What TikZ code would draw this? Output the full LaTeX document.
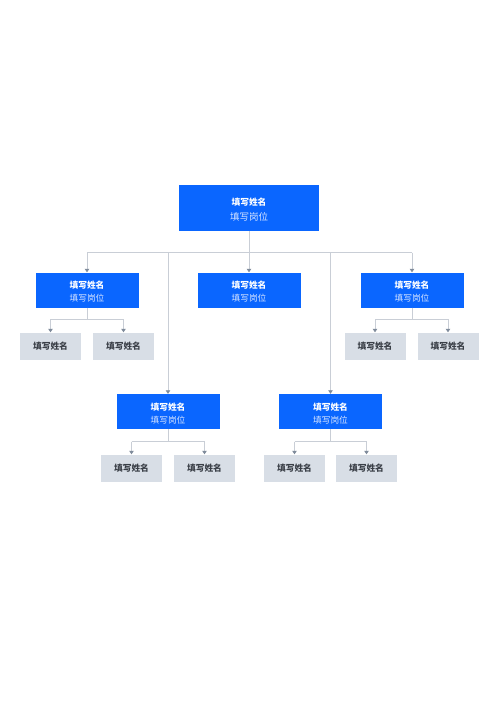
\documentclass[tikz,border=0pt]{standalone}
\usepackage{fontspec}
\setmainfont{Noto Sans CJK SC}
\usetikzlibrary{arrows.meta}
\definecolor{mainblue}{HTML}{0A66FF}
\definecolor{subwhite}{HTML}{D6E4FF}
\definecolor{leafgray}{HTML}{D8DEE6}
\definecolor{leaftext}{HTML}{3A3F47}
\definecolor{linegray}{HTML}{C9CED6}
\definecolor{tipgray}{HTML}{7F8B9B}
\tikzset{
  bluebox/.style={fill=mainblue, draw=none, minimum width=#1, inner sep=0pt},
  cjk/.style={inner sep=0pt, text height=0.88em, text depth=0.12em},
  ttl/.style={cjk, text=white, font=\bfseries\fontsize{8.7pt}{10pt}\selectfont},
  sub/.style={cjk, text=subwhite, font=\fontsize{#1}{10pt}\selectfont},
  leafbox/.style={fill=leafgray, draw=none, minimum width=61pt, minimum height=27pt, inner sep=0pt},
  leaft/.style={cjk, text=leaftext, font=\bfseries\fontsize{8.7pt}{10pt}\selectfont},
  conn/.style={draw=linegray, line width=0.8pt},
  arr/.style={conn, -{Triangle[width=4.5pt,length=3.5pt,color=tipgray]}},
}
\begin{document}
\begin{tikzpicture}[x=1pt,y=-1pt]
\useasboundingbox (0,0) rectangle (500,707);
\fill[white] (0,0) rectangle (500,707);
% top
\node[bluebox=140pt, minimum height=46pt] (top) at (249,208) {};
\node[ttl] (topt) at (249,201.7) {填写姓名};
\node[sub=9.5pt] (tops) at (249,217) {填写岗位};
% level 1 and 2
\foreach \n/\x/\y in {l1a/87/290, l1b/249/290, l1c/412/290, l2a/168/411.5, l2b/330.5/411.5}{
  \node[bluebox=103pt, minimum height=35pt] (\n) at (\x,\y) {};
  \node[ttl] (\n t) at ([yshift=5.3pt]\n.center) {填写姓名};
  \node[sub=8.7pt] (\n s) at ([yshift=-7.7pt]\n.center) {填写岗位};
}
% leaves
\foreach \n/\x/\y in {a1/50.5/346, a2/123.5/346, c1/375/346, c2/448/346, d1/131.5/468, d2/204.5/468, e1/294.5/468, e2/366.5/468}{
  \node[leafbox] (\n) at (\x,\y) {};
  \node[leaft] (\n t) at (\n.center) {填写姓名};
}
% bus
\coordinate (bus) at (249,252.5);
\coordinate (busL) at (87,252.5);
\coordinate (busR) at (412,252.5);
\coordinate (busA) at (168,252.5);
\coordinate (busB) at (330.5,252.5);
\draw[conn] (top.south) -- (bus);
\draw[conn] (busL) -- (busR);
\draw[arr] (busL) -- (l1a.north);
\draw[arr] (bus) -- (l1b.north);
\draw[arr] (busR) -- (l1c.north);
\draw[arr] (busA) -- (l2a.north);
\draw[arr] (busB) -- (l2b.north);
% sub-branches
\foreach \p/\x/\yb in {l1a/a/319, l1c/c/319, l2a/d/441.5, l2b/e/441.5}{
  \draw[conn] (\p.south) -- (\p.south |- 0,\yb);
  \draw[conn] (\x1.north |- 0,\yb) -- (\x2.north |- 0,\yb);
  \draw[arr] (\x1.north |- 0,\yb) -- (\x1.north);
  \draw[arr] (\x2.north |- 0,\yb) -- (\x2.north);
}
\end{tikzpicture}
\end{document}
